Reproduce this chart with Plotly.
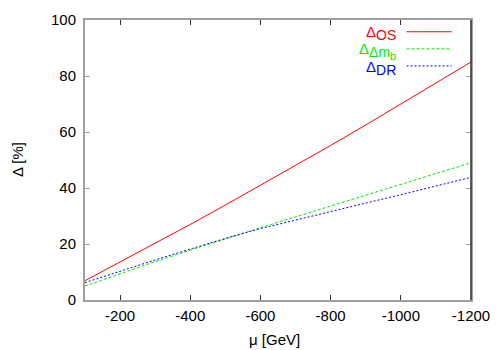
import plotly.graph_objects as go

# mu values [GeV] and Delta [%]
mu = [-100, -200, -300, -400, -500, -600, -700, -800, -900, -1000, -1100, -1200]
delta_os = [6.9, 13.5, 20.2, 27.0, 33.9, 40.9, 48.0, 55.2, 62.5, 69.9, 77.4, 85.0]
delta_dmb = [5.0, 9.4, 13.7, 17.8, 21.9, 25.8, 29.7, 33.6, 37.5, 41.4, 45.2, 49.0]
delta_dr = [6.2, 10.3, 14.3, 18.2, 22.0, 25.5, 28.6, 31.6, 34.6, 37.6, 40.7, 43.8]

x_ticks = [-200, -400, -600, -800, -1000, -1200]
x_labels = ["-200", "-400", "-600", "-800", "-1000", "-1200"]
y_ticks = [0, 20, 40, 60, 80, 100]

sub = "<sub><span style='font-size:14px'>%s</span></sub>"
names = ["Δ" + sub % "OS",
         "Δ" + sub % "Δm<sub><span style='font-size:11px'>b</span></sub>",
         "Δ" + sub % "DR"]
colors = ["#ff0000", "#00e800", "#0000ff"]
dashes = ["solid", "3px,2px", "2px,2px"]
series = [delta_os, delta_dmb, delta_dr]

fig = go.Figure()
for ys, c, d in zip(series, colors, dashes):
    fig.add_trace(go.Scatter(x=mu, y=ys, mode="lines", showlegend=False,
                             line=dict(color=c, width=1, dash=d)))

# legend drawn by hand: text on the left, line sample on the right
for i, (name, c, d) in enumerate(zip(names, colors, dashes)):
    yy = 0.958 - i * 0.061
    fig.add_annotation(xref="paper", yref="paper", x=0.81, y=yy - 0.006, text=name,
                       showarrow=False, xanchor="right", yanchor="middle",
                       font=dict(color=c, size=15))
    fig.add_shape(type="line", xref="paper", yref="paper",
                  x0=0.833, x1=0.95, y0=yy, y1=yy,
                  line=dict(color=c, width=1, dash=d))

# darker right border as in the original
fig.add_shape(type="line", xref="paper", yref="paper", x0=1, x1=1, y0=0, y1=1,
              line=dict(color="#303030", width=1.5))

# axis titles
fig.add_annotation(xref="paper", yref="paper", x=-0.176, y=0.5, text="Δ [%]",
                   textangle=-90, showarrow=False, xanchor="center", yanchor="middle",
                   font=dict(size=15))
fig.add_annotation(xref="paper", yref="paper", x=0.492, y=-0.141, text="μ [GeV]",
                   showarrow=False, xanchor="center", yanchor="middle",
                   font=dict(size=15))

# page body adds 8px offset, so the figure is shrunk to fit the window
fig.update_layout(
    width=492, height=342,
    margin=dict(l=77, r=29, t=12, b=50),
    paper_bgcolor="white", plot_bgcolor="white",
    font=dict(family="Liberation Sans, Arial, sans-serif", size=15, color="black"),
)
fig.update_xaxes(range=[-100, -1200], tickvals=x_ticks, ticktext=x_labels,
                 ticks="inside", ticklen=5, tickcolor="#303030", automargin=False,
                 ticklabelstandoff=1, showgrid=False, zeroline=False,
                 showline=True, linecolor="#a0a0a0", linewidth=2, mirror="ticks")
fig.update_yaxes(range=[0, 100], tickvals=y_ticks, ticks="inside", ticklen=5,
                 tickcolor="#a0a0a0", automargin=False, ticklabelstandoff=4,
                 showgrid=False, zeroline=False,
                 showline=True, linecolor="#a0a0a0", linewidth=2, mirror="ticks")

fig.write_html("out.html")
